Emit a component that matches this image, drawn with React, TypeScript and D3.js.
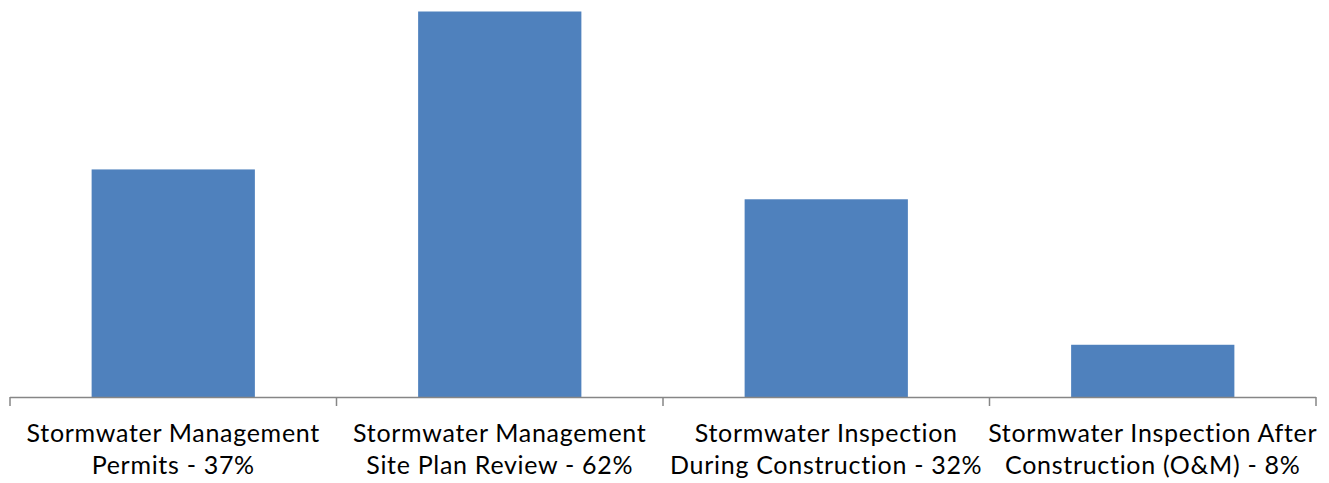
import { useMemo } from "react"
import { scaleBand, scaleLinear } from "d3"

const W = 1329, H = 483
const ML = 10, MR = 13, MT = 11.5, BASE = 397

const labelLine1 = ["Stormwater Management", "Stormwater Management", "Stormwater Inspection", "Stormwater Inspection After"]
const labelLine2 = ["Permits - 37%", "Site Plan Review - 62%", "During Construction - 32%", "Construction (O&M) - 8%"]
const values = [36.6, 62, 31.8, 8.4]
const keys = ["permits", "siteplan", "during", "after"]

export default function App() {
  const x = useMemo(() => scaleBand<string>().domain(keys).range([ML, W - MR]).paddingInner(0.5).paddingOuter(0.25), [])
  const y = useMemo(() => scaleLinear().domain([0, 62]).range([BASE, MT]), [])
  const step = x.step()
  // category boundaries sit halfway between bars
  const tickXs = keys.map(k => (x(k) as number) - (step - x.bandwidth()) / 2)
  tickXs.push(W - MR)

  return (
    <svg width={W} height={H} style={{ position: "absolute", left: 0, top: 0, background: "#fff" }}
      fontFamily="Lato, 'Open Sans', sans-serif">
      {keys.map((k, i) => (
        <rect key={k} x={x(k)} y={y(values[i])} width={x.bandwidth()} height={BASE - y(values[i])} fill="#4f81bd" />
      ))}
      <line x1={ML} x2={W - MR} y1={BASE + 0.5} y2={BASE + 0.5} stroke="#868686" strokeWidth={1.5} />
      {tickXs.map((t, i) => (
        <line key={i} x1={t} x2={t} y1={BASE} y2={BASE + 9} stroke="#868686" strokeWidth={1.5} />
      ))}
      {keys.map((k, i) => {
        const cx = (x(k) as number) + x.bandwidth() / 2
        return (
          <text key={k} x={cx} textAnchor="middle" fill="#000" fontSize={25} letterSpacing={0.7}>
            <tspan x={cx} y={442}>{labelLine1[i]}</tspan>
            <tspan x={cx} y={474}>{labelLine2[i]}</tspan>
          </text>
        )
      })}
    </svg>
  )
}
